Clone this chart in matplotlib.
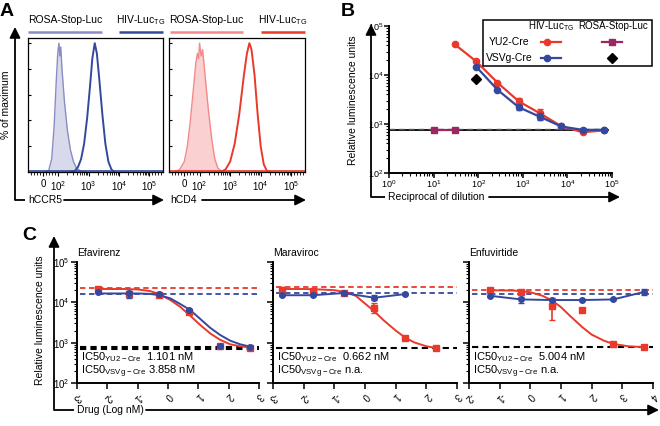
import numpy as np
import matplotlib.pyplot as plt
from matplotlib.patches import FancyArrowPatch, Rectangle
from matplotlib.lines import Line2D
from matplotlib.ticker import FixedLocator, NullFormatter, LogLocator

plt.rcParams['font.family'] = ['Liberation Sans', 'DejaVu Sans']
plt.rcParams['mathtext.fontset'] = 'custom'
plt.rcParams['mathtext.rm'] = 'Liberation Sans'

# ---- panel A: flow histograms (x in log-decade units, y in % of max)
ccr5_rosa_x = [1.55, 1.68, 1.78, 1.86, 1.93, 1.98, 2.02, 2.05, 2.08, 2.12, 2.2, 2.3, 2.4, 2.5, 2.6, 2.75, 2.9]
ccr5_rosa_y = [0, 1, 10, 35, 70, 92, 100, 90, 97, 80, 55, 32, 17, 8, 3, 0.5, 0]
ccr5_hiv_x = [2.4, 2.55, 2.65, 2.75, 2.85, 2.95, 3.05, 3.12, 3.2, 3.27, 3.35, 3.45, 3.55, 3.65, 3.75, 3.85]
ccr5_hiv_y = [0, 1, 4, 10, 22, 42, 68, 88, 100, 92, 72, 45, 22, 8, 2, 0]
cd4_rosa_x = [1.2, 1.35, 1.5, 1.6, 1.7, 1.8, 1.88, 1.93, 1.97, 2.0, 2.05, 2.1, 2.18, 2.28, 2.4, 2.5, 2.6, 2.75]
cd4_rosa_y = [0, 2, 8, 20, 40, 65, 85, 92, 88, 100, 90, 95, 75, 50, 25, 10, 3, 0]
cd4_hiv_x = [2.7, 2.85, 3.0, 3.15, 3.3, 3.45, 3.55, 3.63, 3.7, 3.8, 3.9, 4.0, 4.1, 4.2, 4.3]
cd4_hiv_y = [0, 2, 8, 22, 45, 75, 92, 100, 95, 75, 45, 20, 6, 1, 0]
a_tick_pos = [1.5, 2, 3, 4, 5]
a_tick_lab = ['0', '10$^2$', '10$^3$', '10$^4$', '10$^5$']

# ---- panel B: dilution series
yu2_x = [30, 90, 270, 810, 2430, 7290, 21870, 65610]
yu2_y = [42000, 19000, 7000, 2900, 1650, 900, 680, 740]
yu2_lo = [41000, 18000, 6700, 2600, 1450, 860, 650, 720]
yu2_hi = [43000, 20000, 7300, 3400, 2000, 940, 710, 760]
vsv_x = [90, 270, 810, 2430, 7290, 21870, 65610]
vsv_y = [14800, 5000, 2200, 1400, 890, 760, 760]
vsv_lo = [14000, 4800, 1950, 1200, 860, 740, 740]
vsv_hi = [15600, 5200, 2400, 1650, 920, 780, 780]
rosa_yu2_x = [10, 30]
rosa_yu2_y = [740, 740]
rosa_vsv_x = [90]
rosa_vsv_y = [8300]
b_bg_solid = 740
b_bg_dash = 775

# ---- panel C: drug titrations
drugs = ['Efavirenz', 'Maraviroc', 'Enfuvirtide']
c_xlim = [(-3, 3), (-3, 3), (-2, 4)]
c_red_x = [[-2.3, -1.3, -0.3, 0.7, 1.7, 2.7],
           [-2.7, -1.7, -0.7, 0.3, 1.3, 2.3],
           [-1.3, -0.3, 0.7, 1.7, 2.7, 3.7]]
c_red_y = [[21000, 16500, 15500, 5800, 820, 730],
           [20500, 19000, 17500, 7100, 1300, 720],
           [20000, 18200, 8300, 6500, 950, 760]]
c_red_lo = [[20000, 15500, 14800, 5500, 790, 710],
            [16200, 16000, 16800, 5400, 1250, 700],
            [19000, 17500, 3600, 5600, 900, 740]]
c_red_hi = [[22000, 17500, 16200, 6100, 850, 750],
            [23400, 22000, 18200, 9500, 1350, 740],
            [21000, 19000, 12600, 7200, 1000, 780]]
c_blue_x = [[-2.3, -1.3, -0.3, 0.7, 1.7, 2.7],
            [-2.7, -1.7, -0.7, 0.3, 1.3],
            [-1.3, -0.3, 0.7, 1.7, 2.7, 3.7]]
c_blue_y = [[18200, 16700, 15800, 6500, 830, 760],
            [15000, 15000, 17000, 13000, 16000],
            [14500, 11800, 11400, 11400, 11800, 18000]]
c_blue_lo = [[17500, 13000, 15000, 6000, 800, 740],
             [14300, 14300, 16300, 11500, 15300],
             [13800, 9500, 10900, 10900, 11200, 15100]]
c_blue_hi = [[19000, 19000, 16600, 7000, 860, 780],
             [15700, 15700, 17700, 15000, 16700],
             [15200, 13800, 11900, 11900, 12400, 20900]]
c_blue_joined = [False, True, True]
# fitted curves
c_rcurve_x = [[-2.3, -1.5, -1.0, -0.6, -0.3, 0.07, 0.4, 0.73, 1.06, 1.39, 1.72, 2.05, 2.38, 2.71],
              [-2.7, -2.0, -1.5, -1.0, -0.6, -0.3, 0.0, 0.3, 0.6, 1.0, 1.3, 1.6, 2.0, 2.3],
              [-1.3, -0.5, 0.0, 0.4, 0.7, 1.0, 1.3, 1.7, 2.0, 2.4, 2.7, 3.2, 3.7]]
c_rcurve_y = [[21400, 21400, 20900, 19050, 16200, 11500, 7760, 4680, 2750, 1700, 1175, 912, 813, 759],
              [21400, 21400, 20900, 20000, 17800, 14500, 9330, 6030, 3630, 2000, 1350, 1020, 813, 741],
              [19950, 19500, 17800, 14500, 11200, 7590, 4570, 2400, 1585, 1120, 933, 813, 776]]
c_bcurve_x = [-2.3, -1.5, -1.0, -0.6, -0.3, 0.07, 0.4, 0.73, 1.06, 1.39, 1.72, 2.05, 2.38, 2.71]
c_bcurve_y = [16600, 16600, 16600, 16200, 15100, 12600, 9120, 6460, 3890, 2340, 1550, 1120, 912, 794]
c_red_ref = [23000, 23400, 20400]
c_blue_ref = [15800, 16600, 15800]
c_black_ref = [[800, 700], [720], [760]]
ic50_yu2 = ['1.101 nM', '0.662 nM', '5.004 nM']
ic50_vsv = ['3.858 nM', 'n.a.', 'n.a.']

RED = '#e8392b'
BLUE = '#34489e'
LBLUE = '#8a8cc6'
LRED = '#f3898a'
PURPLE = '#9c2760'
W, H = 660, 426

fig = plt.figure(figsize=(6.6, 4.26), dpi=100)


def fx(px):
    return px / W


def fy(py):
    return 1 - py / H


def ax_at(x0, y0, x1, y1):
    return fig.add_axes([fx(x0), fy(y1), fx(x1) - fx(x0), fy(y0) - fy(y1)])


def ftext(px, py, s, **kw):
    kw.setdefault('fontsize', 7.5)
    kw.setdefault('va', 'center')
    fig.text(fx(px), fy(py), s, **kw)


def fline(x0, y0, x1, y1, color='k', lw=1.3, arrow=False):
    if arrow:
        p = FancyArrowPatch((fx(x0), fy(y0)), (fx(x1), fy(y1)), transform=fig.transFigure,
                            arrowstyle='-|>', mutation_scale=16, lw=lw, color=color,
                            shrinkA=0, shrinkB=0)
        fig.add_artist(p)
    else:
        fig.add_artist(Line2D([fx(x0), fx(x1)], [fy(y0), fy(y1)], transform=fig.transFigure,
                              color=color, lw=lw, solid_capstyle='butt'))


# ================= A =================
a_minor = []
for n in [2, 3, 4]:
    a_minor += [n + np.log10(k) for k in range(2, 10)]
a_minor += [1.1, 1.2, 1.3, 1.4, 1.6, 1.7, 1.8, 1.9, 5.1, 5.2, 5.3, 5.4]

hists = [(ccr5_rosa_x, ccr5_rosa_y, ccr5_hiv_x, ccr5_hiv_y, LBLUE, BLUE, '#d9d9ec', (28, 163)),
         (cd4_rosa_x, cd4_rosa_y, cd4_hiv_x, cd4_hiv_y, LRED, RED, '#fbd0d0', (169, 305))]
for rx, ry, hx, hy, lc, dc, fc, (l, r) in hists:
    ax = ax_at(l, 38, r, 172)
    ax.fill_between(rx, ry, color=fc, lw=0)
    ax.plot(rx, ry, color=lc, lw=1.0)
    ax.plot(hx, hy, color=dc, lw=1.4)
    ax.plot([1.0, 5.45], [0.4, 0.4], color=dc, lw=1.2)
    ax.set_xlim(1.0, 5.45)
    ax.set_ylim(0, 104)
    ax.set_xticks(a_tick_pos)
    ax.set_xticklabels(a_tick_lab, fontsize=7)
    ax.xaxis.set_minor_locator(FixedLocator(a_minor))
    ax.set_yticks([0, 20, 40, 60, 80, 100])
    ax.set_yticklabels([])
    ax.tick_params(axis='x', which='major', length=3, width=0.8, pad=2, direction='out')
    ax.tick_params(axis='x', which='minor', length=1.8, width=0.6, direction='out')
    ax.tick_params(axis='y', length=2.5, width=0.8, direction='in')
    for s in ax.spines.values():
        s.set_linewidth(0.9)

# labels above histograms
for (t0, t1, s, c) in [(28, 102, 'ROSA-Stop-Luc', LBLUE), (119, 163, 'HIV-Luc$_{\\mathregular{TG}}$', BLUE),
                       (170, 243, 'ROSA-Stop-Luc', LRED), (261, 305, 'HIV-Luc$_{\\mathregular{TG}}$', RED)]:
    ftext((t0 + t1) / 2, 20, s, ha='center')
    fline(t0, 31.5, t1, 31.5, color=c, lw=1.8)

fline(15, 200, 15, 27, arrow=True)
fline(15, 200, 25, 200)
ftext(28, 200, 'hCCR5')
fline(64, 200, 164, 200, arrow=True)
ftext(170, 200, 'hCD4')
fline(202, 200, 306, 200, arrow=True)
ftext(6, 105, '% of maximum', rotation=90, ha='center')
ftext(0, 11, 'A', fontsize=14, fontweight='bold')

# ================= B =================
axb = ax_at(389, 26, 612, 173)
axb.set_xscale('log')
axb.set_yscale('log')
axb.plot([1, 8e4], [b_bg_solid, b_bg_solid], color='k', lw=1.3, zorder=1)
axb.plot([1, 8e4], [b_bg_dash, b_bg_dash], color='#555555', lw=1.0, ls=(0, (4, 3)), zorder=1)
axb.errorbar(yu2_x, yu2_y, yerr=[np.subtract(yu2_y, yu2_lo), np.subtract(yu2_hi, yu2_y)],
             color=RED, marker='o', ms=4.5, lw=1.6, capsize=2.5, elinewidth=1.2, zorder=3)
axb.errorbar(vsv_x, vsv_y, yerr=[np.subtract(vsv_y, vsv_lo), np.subtract(vsv_hi, vsv_y)],
             color=BLUE, marker='o', ms=4.5, lw=1.6, capsize=2.5, elinewidth=1.2, zorder=4)
axb.plot(rosa_yu2_x, rosa_yu2_y, color=PURPLE, marker='s', ms=5, lw=1.6, zorder=3)
axb.plot(rosa_vsv_x, rosa_vsv_y, color='k', marker='D', ms=5, lw=0, zorder=3)
axb.set_xlim(1, 1e5)
axb.set_ylim(1e2, 1e5)
axb.xaxis.set_minor_locator(LogLocator(base=10, subs=np.arange(2, 10)))
axb.yaxis.set_minor_locator(LogLocator(base=10, subs=np.arange(2, 10)))
axb.xaxis.set_minor_formatter(NullFormatter())
axb.yaxis.set_minor_formatter(NullFormatter())
axb.tick_params(which='major', length=3.5, width=1.1, labelsize=6.5, pad=0.5)
axb.tick_params(which='minor', length=2.0, width=0.8)
axb.spines['top'].set_visible(False)
axb.spines['right'].set_visible(False)
for s in ['left', 'bottom']:
    axb.spines[s].set_linewidth(1.4)

# legend of B, drawn by hand
fig.add_artist(Rectangle((fx(483), fy(66)), fx(652) - fx(483), fy(20) - fy(66),
                         transform=fig.transFigure, fill=False, ec='k', lw=1.1))
ftext(551, 26, 'HIV-Luc$_{\\mathregular{TG}}$', ha='center', fontsize=7)
ftext(613, 26, 'ROSA-Stop-Luc', ha='center', fontsize=7)
ftext(509, 42, 'YU2-Cre', ha='center')
ftext(509, 58, 'VSVg-Cre', ha='center')
fig.add_artist(Line2D([fx(541), fx(561)], [fy(42)] * 2, transform=fig.transFigure, color=RED, lw=1.6))
fig.add_artist(Line2D([fx(547)], [fy(42)], transform=fig.transFigure, color=RED, marker='o', ms=4.5))
fig.add_artist(Line2D([fx(541), fx(561)], [fy(58)] * 2, transform=fig.transFigure, color=BLUE, lw=1.6))
fig.add_artist(Line2D([fx(547)], [fy(58)], transform=fig.transFigure, color=BLUE, marker='o', ms=4.5))
fig.add_artist(Line2D([fx(602), fx(622)], [fy(42)] * 2, transform=fig.transFigure, color=PURPLE, lw=1.6))
fig.add_artist(Line2D([fx(612)], [fy(42)], transform=fig.transFigure, color=PURPLE, marker='s', ms=5))
fig.add_artist(Line2D([fx(612)], [fy(58)], transform=fig.transFigure, color='k', marker='D', ms=5))

fline(371, 197, 371, 24, arrow=True)
fline(371, 197, 385, 197)
ftext(388, 197, 'Reciprocal of dilution')
fline(489, 197, 620, 197, arrow=True)
ftext(353, 100, 'Relative luminescence units', rotation=90, ha='center')
ftext(341, 12, 'B', fontsize=14, fontweight='bold')

# ================= C =================
c_boxes = [(77, 259), (273, 457), (469, 653)]
for i, (l, r) in enumerate(c_boxes):
    ax = ax_at(l, 262, r, 383)
    ax.set_yscale('log')
    x0, x1 = c_xlim[i]
    ax.plot([x0 + 0.1, x1], [c_red_ref[i]] * 2, color=RED, lw=1.3, ls=(0, (3, 2)), zorder=1)
    ax.plot([x0 + 0.1, x1], [c_blue_ref[i]] * 2, color=BLUE, lw=1.3, ls=(0, (3, 2)), zorder=1)
    for v in c_black_ref[i]:
        ax.plot([x0 + 0.1, x1], [v, v], color='k', lw=1.5, ls=(0, (3, 2)), zorder=1)
    ax.plot(c_rcurve_x[i], c_rcurve_y[i], color=RED, lw=1.4, zorder=2)
    if i == 0:
        ax.plot(c_bcurve_x, c_bcurve_y, color=BLUE, lw=1.4, zorder=2)
    ax.errorbar(c_red_x[i], c_red_y[i],
                yerr=[np.subtract(c_red_y[i], c_red_lo[i]), np.subtract(c_red_hi[i], c_red_y[i])],
                color=RED, marker='s', ms=4, lw=0, elinewidth=1.2, capsize=2.5, zorder=3)
    ax.errorbar(c_blue_x[i], c_blue_y[i],
                yerr=[np.subtract(c_blue_y[i], c_blue_lo[i]), np.subtract(c_blue_hi[i], c_blue_y[i])],
                color=BLUE, marker='o', ms=4, lw=1.4 if c_blue_joined[i] else 0,
                elinewidth=1.2, capsize=2.5, zorder=4)
    ax.set_xlim(x0, x1)
    ax.set_ylim(1e2, 1e5)
    ax.set_xticks(range(x0, x1 + 1))
    ax.set_xticklabels([str(t) for t in range(x0, x1 + 1)], rotation=-135, fontsize=7)
    ax.yaxis.set_minor_locator(LogLocator(base=10, subs=np.arange(2, 10)))
    ax.yaxis.set_minor_formatter(NullFormatter())
    if i > 0:
        ax.set_yticklabels([])
    ax.tick_params(which='major', length=4, width=1.1, labelsize=7, pad=1.5)
    ax.tick_params(which='minor', length=2.2, width=0.8)
    ax.spines['top'].set_visible(False)
    ax.spines['right'].set_visible(False)
    for s in ['left', 'bottom']:
        ax.spines[s].set_linewidth(1.4)
    ax.text(0.0, 1.03, drugs[i], transform=ax.transAxes, fontsize=7.5, ha='left', va='bottom')
    ax.text(0.02, 0.215, 'IC50$_{\\mathregular{YU2-Cre}}$  ' + ic50_yu2[i],
            transform=ax.transAxes, fontsize=8, va='center')
    ax.text(0.02, 0.09, 'IC50$_{\\mathregular{VSVg-Cre}}$ ' + ic50_vsv[i],
            transform=ax.transAxes, fontsize=8, va='center')

fline(54, 410, 54, 236, arrow=True)
fline(54, 410, 74, 410)
ftext(77, 410, 'Drug (Log nM)')
fline(146, 410, 659, 410, arrow=True)
ftext(40, 320, 'Relative luminescence units', rotation=90, ha='center')
ftext(22, 236, 'C', fontsize=14, fontweight='bold')

fig.savefig('out.png', dpi=100)
